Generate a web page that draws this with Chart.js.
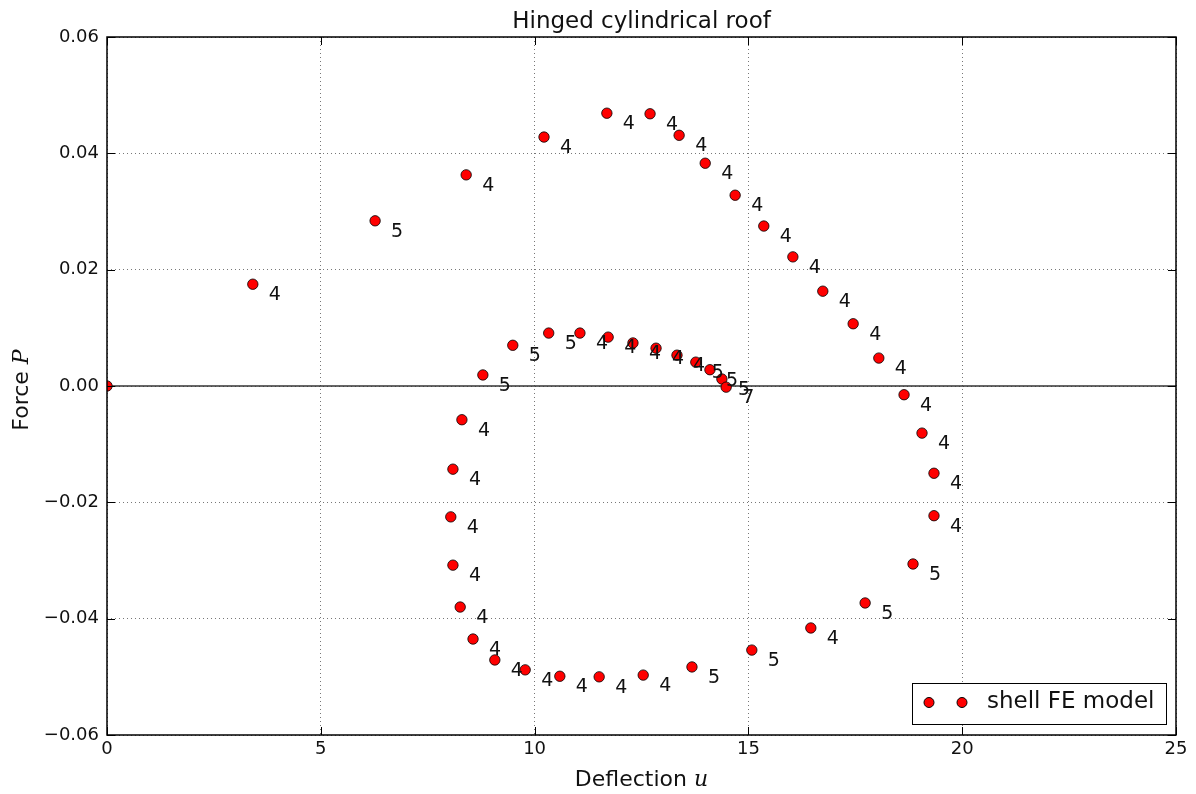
<!DOCTYPE html>
<html>
<head>
<meta charset="utf-8">
<title>Hinged cylindrical roof</title>
<script src="https://cdn.jsdelivr.net/npm/chart.js@4.4.1/dist/chart.umd.min.js"></script>
<style>
  html, body { margin: 0; padding: 0; background: #fff; }
  #wrap { width: 1196px; height: 794px; position: relative; }
</style>
</head>
<body>
<div id="wrap"><canvas id="myChart"></canvas></div>
<script>
/* global Chart */

// deflection u of each converged step
const deflection = [0, 3.41, 6.27, 8.40, 10.22, 11.69, 12.70, 13.38, 13.99, 14.69, 15.36, 16.04,
  16.74, 17.45, 18.05, 18.64, 19.06, 19.34, 19.34, 18.85, 17.73, 16.46, 15.08, 13.68, 12.54,
  11.51, 10.59, 9.78, 9.07, 8.56, 8.26, 8.09, 8.04, 8.09, 8.30, 8.79, 9.49, 10.33, 11.06,
  11.72, 12.30, 12.84, 13.33, 13.77, 14.10, 14.38, 14.48];

// force P of each step
const force = [0, 0.0175, 0.0284, 0.0363, 0.0428, 0.0469, 0.0468, 0.0431, 0.0383, 0.0328,
  0.0275, 0.0222, 0.0163, 0.0107, 0.0048, -0.0015, -0.0081, -0.0150, -0.0223, -0.0306,
  -0.0373, -0.0416, -0.0454, -0.0483, -0.0497, -0.0500, -0.0499, -0.0488, -0.0471, -0.0435,
  -0.0380, -0.0308, -0.0225, -0.0143, -0.0058, 0.0019, 0.0070, 0.0091, 0.0091, 0.0084,
  0.0074, 0.0065, 0.0053, 0.0041, 0.0028, 0.0012, -0.0002];

// number of iterations written next to each point
const iterations = [null, 4, 5, 4, 4, 4, 4, 4, 4, 4, 4, 4, 4, 4, 4, 4, 4, 4, 4,
  5, 5, 4, 5, 5, 4, 4, 4, 4, 4, 4, 4, 4, 4, 4, 4, 5, 5, 5, 4, 4, 4, 4, 4, 5, 5, 5, 7];

const xTicks = [0, 5, 10, 15, 20, 25];
const yTicks = [-0.06, -0.04, -0.02, 0, 0.02, 0.04, 0.06];

{
  'use strict';

  const FONT = 'DejaVu Sans';
  const MATH = 'DejaVu Serif';

  const points = deflection.map(function(u, i) {
    return { x: u, y: force[i] };
  });

  // zero line under the points
  const zeroLine = {
    id: 'zeroLine',
    beforeDatasetsDraw(chart) {
      const c = chart.ctx, a = chart.chartArea;
      const y = chart.scales.y.getPixelForValue(0);
      c.save();
      c.strokeStyle = '#333';
      c.lineWidth = 1.5;
      c.beginPath();
      c.moveTo(a.left, y);
      c.lineTo(a.right, y);
      c.stroke();
      c.restore();
    }
  };

  // iteration counts next to the points
  const pointLabels = {
    id: 'pointLabels',
    afterDatasetsDraw(chart) {
      const c = chart.ctx;
      const meta = chart.getDatasetMeta(0);
      c.save();
      c.font = '19px "' + FONT + '"';
      c.fillStyle = '#111';
      c.textAlign = 'left';
      c.textBaseline = 'alphabetic';
      meta.data.forEach(function(el, i) {
        if(iterations[i] === null) return;
        c.fillText(String(iterations[i]), el.x + 16, el.y + 16);
      });
      c.restore();
    }
  };

  function drawMixed(c, parts, x, y) {
    // parts: [text, font] pairs, drawn centred on x
    let w = 0;
    parts.forEach(function(p) { c.font = p[1]; w += c.measureText(p[0]).width; });
    let cx = x - w / 2;
    parts.forEach(function(p) {
      c.font = p[1];
      c.fillText(p[0], cx, y);
      cx += c.measureText(p[0]).width;
    });
    return w;
  }

  // frame, inward ticks, titles and legend
  const decorations = {
    id: 'decorations',
    afterDraw(chart) {
      const c = chart.ctx, a = chart.chartArea;
      const sx = chart.scales.x, sy = chart.scales.y;
      c.save();

      c.strokeStyle = '#000';
      c.lineWidth = 1;
      xTicks.forEach(function(v) {
        const x = Math.round(sx.getPixelForValue(v)) + 0.5;
        c.beginPath();
        c.moveTo(x, a.bottom); c.lineTo(x, a.bottom - 8);
        c.moveTo(x, a.top); c.lineTo(x, a.top + 8);
        c.stroke();
      });
      yTicks.forEach(function(v) {
        const y = Math.round(sy.getPixelForValue(v)) + 0.5;
        c.beginPath();
        c.moveTo(a.left, y); c.lineTo(a.left + 8, y);
        c.moveTo(a.right, y); c.lineTo(a.right - 8, y);
        c.stroke();
      });

      c.lineWidth = 1.5;
      c.strokeRect(a.left, a.top, a.right - a.left, a.bottom - a.top);

      c.fillStyle = '#111';
      c.textAlign = 'left';
      c.textBaseline = 'alphabetic';
      const mid = (a.left + a.right) / 2;

      c.font = '23px "' + FONT + '"';
      const tw = c.measureText('Hinged cylindrical roof').width;
      c.fillText('Hinged cylindrical roof', mid - tw / 2, 28);

      drawMixed(c, [['Deflection ', '22px "' + FONT + '"'], ['u', 'italic 22px "' + MATH + '"']], mid, 786);

      c.save();
      c.translate(28, (a.top + a.bottom) / 2 + 4);
      c.rotate(-Math.PI / 2);
      drawMixed(c, [['Force ', '22px "' + FONT + '"'], ['P', 'italic 22px "' + MATH + '"']], 0, 0);
      c.restore();

      // legend box
      const lx = 912, ly = 683, lw = 254, lh = 41;
      c.fillStyle = '#fff';
      c.fillRect(lx, ly, lw, lh);
      c.strokeStyle = '#000';
      c.lineWidth = 1;
      c.strokeRect(lx + 0.5, ly + 0.5, lw, lh);
      [929, 962].forEach(function(px) {
        c.beginPath();
        c.arc(px, ly + 19.5, 5, 0, Math.PI * 2);
        c.fillStyle = '#ff0000';
        c.fill();
        c.strokeStyle = '#000';
        c.stroke();
      });
      c.fillStyle = '#111';
      c.font = '23px "' + FONT + '"';
      c.textBaseline = 'middle';
      c.fillText('shell FE model', 987, ly + 19);

      c.restore();
    }
  };

  const ctx = document.getElementById('myChart').getContext('2d');

  const chart = new Chart(ctx, {
    type: 'scatter',
    data: {
      datasets: [{
        label: 'shell FE model',
        data: points,
        backgroundColor: '#ff0000',
        borderColor: '#000',
        borderWidth: 0.8,
        pointRadius: 5.2,
        pointHoverRadius: 5.2,
      }]
    },
    options: {
      responsive: true,
      maintainAspectRatio: false,
      animation: false,
      events: [],
      layout: { padding: { left: 0, top: 37, right: 20, bottom: 0 } },
      plugins: {
        legend: { display: false },
        tooltip: { enabled: false },
        title: { display: false },
      },
      scales: {
        x: {
          type: 'linear',
          min: 0,
          max: 25,
          afterBuildTicks: function(axis) {
            axis.ticks = xTicks.map(function(v) { return { value: v }; });
          },
          afterFit: function(axis) { axis.height = 59; },
          ticks: {
            color: '#111',
            font: { family: FONT, size: 18 },
            padding: 4,
            maxRotation: 0,
          },
          grid: { color: '#777', lineWidth: 1, drawTicks: false },
          border: { display: false, dash: [1, 3] },
        },
        y: {
          type: 'linear',
          min: -0.06,
          max: 0.06,
          afterBuildTicks: function(axis) {
            axis.ticks = yTicks.map(function(v) { return { value: v }; });
          },
          afterFit: function(axis) { axis.width = 107; },
          ticks: {
            color: '#111',
            font: { family: FONT, size: 18 },
            padding: 8,
            callback: function(v) {
              const s = Math.abs(v).toFixed(2);
              return v < -1e-9 ? '\u2212' + s : s;
            },
          },
          grid: { color: '#777', lineWidth: 1, drawTicks: false },
          border: { display: false, dash: [1, 3] },
        }
      }
    },
    plugins: [zeroLine, pointLabels, decorations],
  });
  console.log(chart.chartArea);
}
</script>
</body>
</html>
